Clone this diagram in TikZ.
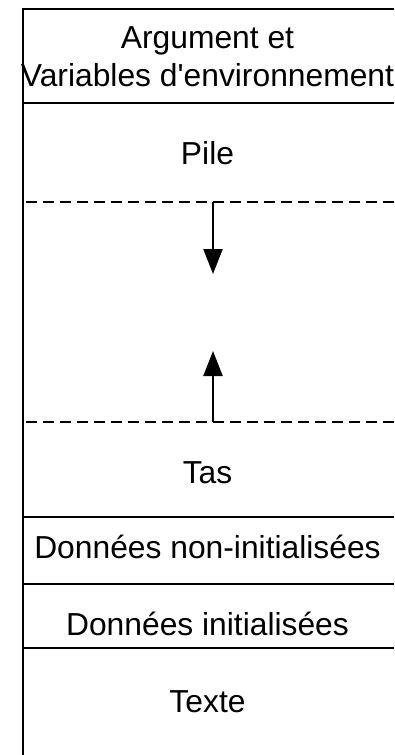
\documentclass[tikz,border=0pt]{standalone}
\usepackage{fontspec}
\setmainfont{Liberation Sans}[Ligatures=TeXOff]
\usetikzlibrary{arrows.meta}

\begin{document}
\begin{tikzpicture}[x=1pt, y=-1pt,
  sepline/.style={line width=2.2pt},
  dashsep/.style={line width=2.8pt, dash pattern=on 10.5pt off 6.5pt, dash phase=-3pt},
  growarrow/.style={line width=2.2pt, -{Triangle[length=25pt, width=19pt]}},
  seglabel/.style={anchor=base, inner sep=0pt, font=\fontsize{31.8}{36}\selectfont}]
  \useasboundingbox (0,0) rectangle (394,755);

  % memory layout frame: left edge and section separators
  \draw[sepline] (23,755) -- (23,9) -- (394,9);
  \draw[sepline] (23,103) -- (394,103);
  \draw[dashsep] (23,202) -- (394,202);
  \draw[dashsep] (23,422) -- (394,422);
  \draw[sepline] (23,517) -- (394,517);
  \draw[sepline] (23,584) -- (394,584);
  \draw[sepline] (23,648) -- (394,648);

  % section labels
  \node[seglabel] (args)  at (207.5,48)  {Argument et};
  \node[seglabel] (env)   at (207.5,86)  {Variables d'environnement};
  \node[seglabel] (pile)  at (207.5,164) {Pile};
  \node[seglabel] (tas)   at (207.5,483) {Tas};
  \node[seglabel] (bss)   at (207.5,558) {Données non-initialisées};
  \node[seglabel] (data)  at (207.5,635) {Données initialisées};
  \node[seglabel] (texte) at (207.5,712) {Texte};

  % growth directions of stack and heap
  \coordinate (stacktop) at (213,202);
  \coordinate (stacktip) at (213,274);
  \coordinate (heaptop)  at (213,422);
  \coordinate (heaptip)  at (213,351);
  \draw[growarrow] (stacktop) -- (stacktip);
  \draw[growarrow] (heaptop) -- (heaptip);
\end{tikzpicture}
\end{document}
